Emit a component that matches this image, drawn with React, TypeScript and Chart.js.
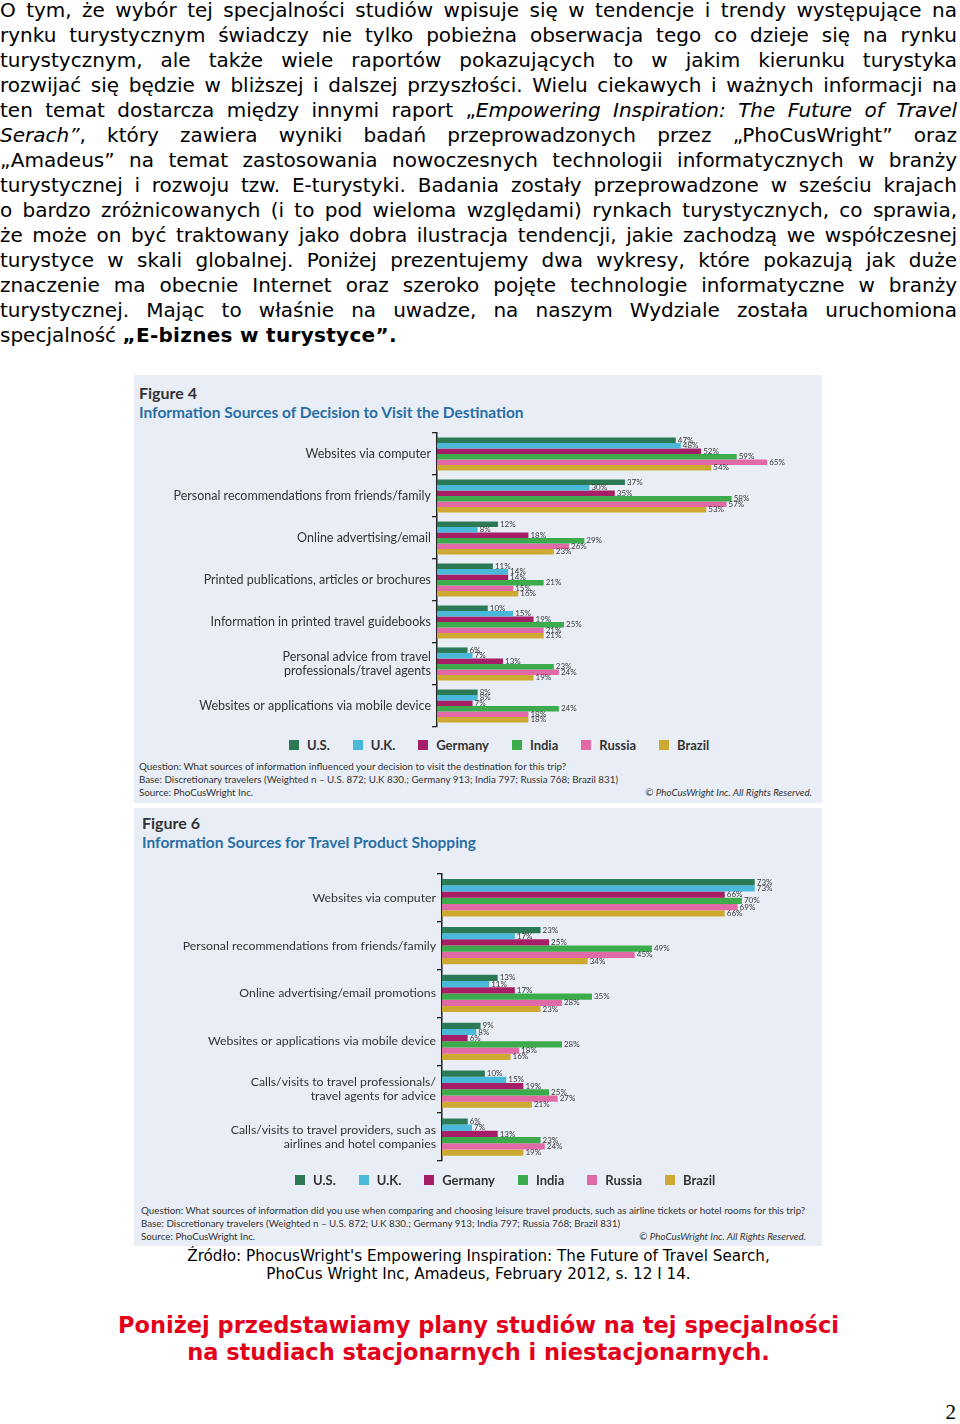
import React, { useEffect, useLayoutEffect, useRef } from "react";
import { Chart, registerables } from "chart.js";
Chart.register(...registerables);

// ---------- DATA ----------
const countries = ["U.S.", "U.K.", "Germany", "India", "Russia", "Brazil"];
const countryColors = ["#2b7a55", "#4ab9d9", "#a61e66", "#3cab4b", "#e16aa6", "#cda932"];

const fig4Categories: (string | string[])[] = [
  "Websites via computer",
  "Personal recommendations from friends/family",
  "Online advertising/email",
  "Printed publications, articles or brochures",
  "Information in printed travel guidebooks",
  ["Personal advice from travel", "professionals/travel agents"],
  "Websites or applications via mobile device",
];
const fig4US = [47, 37, 12, 11, 10, 6, 8];
const fig4UK = [48, 30, 8, 14, 15, 7, 8];
const fig4Germany = [52, 35, 18, 14, 19, 13, 7];
const fig4India = [59, 58, 29, 21, 25, 23, 24];
const fig4Russia = [65, 57, 26, 15, 21, 24, 18];
const fig4Brazil = [54, 53, 23, 16, 21, 19, 18];

const fig6Categories: (string | string[])[] = [
  "Websites via computer",
  "Personal recommendations from friends/family",
  "Online advertising/email promotions",
  "Websites or applications via mobile device",
  ["Calls/visits to travel professionals/", "travel agents for advice"],
  ["Calls/visits to travel providers, such as", "airlines and hotel companies"],
];
const fig6US = [73, 23, 13, 9, 10, 6];
const fig6UK = [73, 17, 11, 8, 15, 7];
const fig6Germany = [66, 25, 17, 6, 19, 13];
const fig6India = [70, 49, 35, 28, 25, 23];
const fig6Russia = [69, 45, 28, 18, 27, 24];
const fig6Brazil = [66, 34, 23, 16, 21, 19];

const paragraphLines: { t: string; s?: "i" | "b" }[][] = [
  [{ t: "O tym, że wybór tej specjalności studiów wpisuje się w tendencje i trendy występujące na" }],
  [{ t: "rynku turystycznym świadczy nie tylko pobieżna obserwacja tego co dzieje się na rynku" }],
  [{ t: "turystycznym, ale także wiele raportów pokazujących to w jakim kierunku turystyka" }],
  [{ t: "rozwijać się będzie w bliższej i dalszej przyszłości. Wielu ciekawych i ważnych informacji na" }],
  [{ t: "ten temat dostarcza między innymi raport „" }, { t: "Empowering Inspiration: The Future of Travel", s: "i" }],
  [{ t: "Serach”", s: "i" }, { t: ", który zawiera wyniki badań przeprowadzonych przez „PhoCusWright” oraz" }],
  [{ t: "„Amadeus” na temat zastosowania nowoczesnych technologii informatycznych w branży" }],
  [{ t: "turystycznej i rozwoju tzw. E-turystyki. Badania zostały przeprowadzone w sześciu krajach" }],
  [{ t: "o bardzo zróżnicowanych (i to pod wieloma względami) rynkach turystycznych, co sprawia," }],
  [{ t: "że może on być traktowany jako dobra ilustracja tendencji, jakie zachodzą we współczesnej" }],
  [{ t: "turystyce w skali globalnej. Poniżej prezentujemy dwa wykresy, które pokazują jak duże" }],
  [{ t: "znaczenie ma obecnie Internet oraz szeroko pojęte technologie informatyczne w branży" }],
  [{ t: "turystycznej. Mając to właśnie na uwadze, na naszym Wydziale została uruchomiona" }],
  [{ t: "specjalność " }, { t: "„E-biznes w turystyce”.", s: "b" }],
];

// ---------- CHART ----------
const valueLabels = {
  id: "valueLabels",
  afterDatasetsDraw(chart: any) {
    const ctx = chart.ctx;
    ctx.save();
    ctx.font = "8px Lato";
    ctx.fillStyle = "#3a3a3a";
    ctx.textBaseline = "middle";
    ctx.textAlign = "left";
    chart.data.datasets.forEach((ds: any, i: number) => {
      const meta = chart.getDatasetMeta(i);
      meta.data.forEach((bar: any, j: number) => {
        ctx.fillText(ds.data[j] + "%", bar.x + 2, bar.y);
      });
    });
    ctx.restore();
  },
};

type ChartProps = {
  cats: (string | string[])[];
  series: number[][];
  max: number;
  width: number;
  height: number;
  padTop: number;
  padBottom: number;
  padRight: number;
  yWidth: number;
  catPct: number;
  labelSize: number;
};

function GroupedBars(p: ChartProps) {
  const ref = useRef<HTMLCanvasElement>(null);
  useEffect(() => {
    const chart = new Chart(ref.current!, {
      type: "bar",
      data: {
        labels: p.cats as any,
        datasets: countries.map((c, i) => ({
          label: c,
          data: p.series[i],
          backgroundColor: countryColors[i],
          borderWidth: 0,
          barPercentage: 1,
          categoryPercentage: p.catPct,
        })),
      },
      options: {
        indexAxis: "y",
        animation: false,
        responsive: false,
        maintainAspectRatio: false,
        layout: { padding: { top: p.padTop, left: 0, right: p.padRight, bottom: p.padBottom } },
        scales: {
          x: { display: false, min: 0, max: p.max },
          y: {
            afterFit: (s: any) => {
              s.width = p.yWidth;
            },
            grid: {
              display: true,
              drawOnChartArea: false,
              drawTicks: true,
              tickLength: 5,
              color: "#222",
              lineWidth: 1.3,
              offset: true,
            },
            border: { display: true, color: "#222", width: 1.5 },
            ticks: {
              autoSkip: false,
              padding: 1,
              color: "#333",
              font: { family: "Lato", size: p.labelSize, lineHeight: 1.12 },
            },
          },
        },
        plugins: {
          legend: { display: false },
          tooltip: { enabled: false },
        },
      },
      plugins: [valueLabels],
    });
    return () => chart.destroy();
  }, []);
  return <canvas ref={ref} width={p.width} height={p.height} style={{ width: p.width, height: p.height, display: "block" }} />;
}

function Legend(props: { left: number; top: number }) {
  return (
    <div style={{ position: "absolute", left: props.left, top: props.top, display: "flex", alignItems: "center", gap: 23, font: "bold 13px Lato", color: "#333", lineHeight: "14px", whiteSpace: "nowrap" }}>
      {countries.map((c, i) => (
        <div key={c} style={{ display: "flex", alignItems: "center" }}>
          <span style={{ display: "inline-block", width: 10, height: 10, background: countryColors[i], marginRight: 8 }} />
          <span>{c}</span>
        </div>
      ))}
    </div>
  );
}

const noteFont = "'Liberation Sans Narrow', 'Lato', sans-serif";

function Panel(props: {
  top: number;
  height: number;
  fig: string;
  title: string;
  titleTop: number;
  titleLeft: number;
  chartTop: number;
  chart: React.ReactNode;
  legendLeft: number;
  legendTop: number;
  notesTop: number;
  notesLeft: number;
  notes: string[];
  copyRight: number;
}) {
  return (
    <div style={{ position: "absolute", left: 134, top: props.top, width: 688, height: props.height, background: "#e9eef6" }}>
      <div style={{ position: "absolute", left: props.titleLeft, top: props.titleTop, font: "bold 16px Lato", color: "#333", lineHeight: "18px" }}>{props.fig}</div>
      <div style={{ position: "absolute", left: props.titleLeft, top: props.titleTop + 19, font: "bold 15.5px Lato", color: "#2a6ea6", lineHeight: "18px", whiteSpace: "nowrap" }}>{props.title}</div>
      <div style={{ position: "absolute", left: 0, top: props.chartTop }}>{props.chart}</div>
      <Legend left={props.legendLeft} top={props.legendTop} />
      <div style={{ position: "absolute", left: props.notesLeft, top: props.notesTop, fontFamily: noteFont, fontSize: 9.8, lineHeight: "13px", color: "#333", whiteSpace: "nowrap" }}>
        {props.notes.map((n, i) => (
          <div key={i}>{n}</div>
        ))}
      </div>
      <div style={{ position: "absolute", right: 688 - props.copyRight, top: props.notesTop + 26, fontFamily: noteFont, fontSize: 9.8, lineHeight: "13px", fontStyle: "italic", color: "#333", whiteSpace: "nowrap" }}>
        © PhoCusWright Inc. All Rights Reserved.
      </div>
    </div>
  );
}

export default function App() {
  useLayoutEffect(() => {
    document.body.style.margin = "0";
    document.documentElement.style.overflow = "hidden";
    document.body.style.overflow = "hidden";
  }, []);
  return (
    <div style={{ position: "relative", width: 960, height: 1424, background: "#fff" }}>
      <div style={{ position: "absolute", left: 0, top: -2, width: 957, fontFamily: "'DejaVu Sans', Verdana, sans-serif", fontSize: 20, lineHeight: "25px", color: "#000" }}>
        {paragraphLines.map((line, i) => (
          <div key={i} style={{ textAlign: "justify", textAlignLast: i === paragraphLines.length - 1 ? "left" : "justify" }}>
            {line.map((seg, k) =>
              seg.s === "i" ? <i key={k}>{seg.t}</i> : seg.s === "b" ? <b key={k} style={{ letterSpacing: 0.3 }}>{seg.t}</b> : <span key={k}>{seg.t}</span>
            )}
          </div>
        ))}
      </div>

      <Panel
        top={375}
        height={428}
        fig="Figure 4"
        title="Information Sources of Decision to Visit the Destination"
        titleTop={9}
        titleLeft={5}
        chartTop={47}
        legendLeft={155}
        legendTop={363}
        notesTop={385}
        notesLeft={5}
        copyRight={678}
        notes={[
          "Question: What sources of information influenced your decision to visit the destination for this trip?",
          "Base: Discretionary travelers (Weighted n – U.S. 872; U.K 830.; Germany 913; India 797; Russia 768; Brazil 831)",
          "Source: PhoCusWright Inc.",
        ]}
        chart={
          <GroupedBars
            cats={fig4Categories}
            series={[fig4US, fig4UK, fig4Germany, fig4India, fig4Russia, fig4Brazil]}
            max={75}
            width={688}
            height={314}
            padTop={11}
            padBottom={9}
            padRight={4}
            yWidth={303}
            catPct={0.79}
            labelSize={12.5}
          />
        }
      />

      <Panel
        top={808}
        height={438}
        fig="Figure 6"
        title="Information Sources for Travel Product Shopping"
        titleTop={6}
        titleLeft={8}
        chartTop={51}
        legendLeft={161}
        legendTop={365}
        notesTop={396}
        notesLeft={7}
        copyRight={672}
        notes={[
          "Question: What sources of information did you use when comparing and choosing leisure travel products, such as airline tickets or hotel rooms for this trip?",
          "Base: Discretionary travelers (Weighted n – U.S. 872; U.K 830.; Germany 913; India 797; Russia 768; Brazil 831)",
          "Source:  PhoCusWright Inc.",
        ]}
        chart={
          <GroupedBars
            cats={fig6Categories}
            series={[fig6US, fig6UK, fig6Germany, fig6India, fig6Russia, fig6Brazil]}
            max={88}
            width={688}
            height={317}
            padTop={11}
            padBottom={15}
            padRight={3}
            yWidth={308}
            catPct={0.78}
            labelSize={12.3}
          />
        }
      />

      <div style={{ position: "absolute", left: 0, width: 957, top: 1247, textAlign: "center", fontFamily: "'DejaVu Sans', sans-serif", fontSize: 15.2, lineHeight: "18px", color: "#000" }}>
        <div>Źródło: PhocusWright's Empowering Inspiration: The Future of Travel Search,</div>
        <div>PhoCus Wright Inc, Amadeus, February 2012, s. 12 I 14.</div>
      </div>

      <div style={{ position: "absolute", left: 0, width: 957, top: 1312, textAlign: "center", fontFamily: "'DejaVu Sans', sans-serif", fontWeight: "bold", fontSize: 22.5, lineHeight: "27px", color: "#e3001b" }}>
        <div>Poniżej przedstawiamy plany studiów na tej specjalności</div>
        <div>na studiach stacjonarnych i niestacjonarnych.</div>
      </div>

      <div style={{ position: "absolute", right: 4, top: 1400, fontFamily: "'Liberation Serif', serif", fontSize: 21, lineHeight: "24px", color: "#000" }}>2</div>
    </div>
  );
}
